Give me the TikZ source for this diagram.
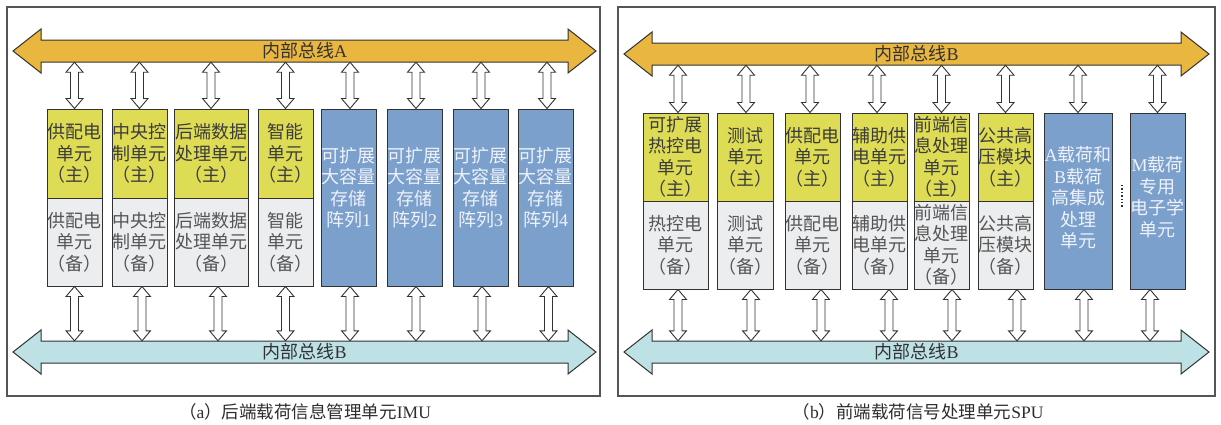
\documentclass[tikz,border=0pt]{standalone}
\usepackage{fontspec}
\setmainfont{Liberation Serif}
\newfontfamily\cjk{Noto Sans CJK SC}
\usetikzlibrary{calc}
\definecolor{edge}{RGB}{50,50,50}
\definecolor{framec}{RGB}{85,85,85}
\definecolor{busorange}{RGB}{233,182,64}
\definecolor{buscyan}{RGB}{190,225,230}
\definecolor{ybox}{RGB}{222,220,84}
\definecolor{gbox}{RGB}{236,237,239}
\definecolor{bbox}{RGB}{124,160,204}
\definecolor{ytext}{RGB}{60,60,60}
\definecolor{gtext}{RGB}{85,85,85}
\definecolor{btext}{RGB}{238,242,250}
\definecolor{captext}{RGB}{45,45,45}
\newcommand\lat[1]{{\rmfamily #1}}
% hollow double vertical arrow: #1 x reference, #2 top y reference, #3 bottom y reference
\newcommand\varrow[3]{%
  \draw[varr] let \p1=#1, \p2=#2, \p3=#3 in
    (\x1,\y2) -- (\x1+8.5pt,\y2-10pt) -- (\x1+4pt,\y2-10pt) -- (\x1+4pt,\y3+10pt)
    -- (\x1+8.5pt,\y3+10pt) -- (\x1,\y3) -- (\x1-8.5pt,\y3+10pt) -- (\x1-4pt,\y3+10pt)
    -- (\x1-4pt,\y2-10pt) -- (\x1-8.5pt,\y2-10pt) -- cycle;}
% bus: #1 name, #2 left head back, #3 right head back, #4 centre y, #5 colour, #6 text
\newcommand\busarrow[6]{%
  \filldraw[busline, fill=#5] (#2,#4-11) -- (#3,#4-11) -- (#3,#4-22) -- (#3+28,#4)
    -- (#3,#4+22) -- (#3,#4+11) -- (#2,#4+11) -- (#2,#4+22) -- (#2-28,#4)
    -- (#2,#4-22) -- cycle;
  \node[bustext, minimum width={#3-#2}, minimum height=22] (#1) at ({(#2+#3)/2},#4) {#6};}
% cell: #1 name, #2 style, #3 x1, #4 x2, #5 y1, #6 y2, #7 text
\newcommand\cell[7]{%
  \node[#2, minimum width={#4-#3}, minimum height={#6-#5}] (#1) at ({(#3+#4)/2},{(#5+#6)/2}) {#7};}
\begin{document}
\begin{tikzpicture}[x=1pt,y=-1pt,
  boxbase/.style={draw=edge, line width=1pt, inner sep=0pt, align=center,
    font=\cjk\fontsize{18pt}{21.5pt}\selectfont},
  mainbox/.style={boxbase, fill=ybox, text=ytext},
  backbox/.style={boxbase, fill=gbox, text=gtext},
  bluebox/.style={boxbase, fill=bbox, text=btext},
  bluetext/.style={inner sep=0pt, align=center, text=btext,
    font=\cjk\fontsize{18pt}{21.5pt}\selectfont},
  varr/.style={draw=edge, fill=white, line width=0.9pt, line join=miter},
  busline/.style={draw=edge, line width=1pt, line join=miter},
  bustext/.style={inner sep=0pt, text=edge, font=\cjk\fontsize{18pt}{21pt}\selectfont},
  framebox/.style={draw=framec, line width=1.2pt},
  caption/.style={inner sep=0pt, text=captext, font=\cjk\fontsize{17.5pt}{20pt}\selectfont}]
\useasboundingbox (0,0) rectangle (1221,424);

% frames
\draw[framebox] (7,7) rectangle (600,396);
\draw[framebox] (618,7) rectangle (1215,396);

% ---------------- left panel ----------------
\busarrow{busA}{41}{568}{51}{busorange}{内部总线\lat{A}}
\busarrow{busB}{41}{568}{352}{buscyan}{内部总线\lat{B}}

\cell{L1m}{mainbox}{47}{102}{109}{198}{供配电\\单元\\（主）}
\cell{L1b}{backbox}{47}{102}{198}{286}{供配电\\单元\\（备）}
\cell{L2m}{mainbox}{112}{167}{109}{198}{中央控\\制单元\\（主）}
\cell{L2b}{backbox}{112}{167}{198}{286}{中央控\\制单元\\（备）}
\cell{L3m}{mainbox}{174}{248}{109}{198}{后端数据\\处理单元\\（主）}
\cell{L3b}{backbox}{174}{248}{198}{286}{后端数据\\处理单元\\（备）}
\cell{L4m}{mainbox}{258}{313}{109}{198}{智能\\单元\\（主）}
\cell{L4b}{backbox}{258}{313}{198}{286}{智能\\单元\\（备）}
\cell{L5}{bluebox}{321}{376}{109}{286}{}
\cell{L6}{bluebox}{387}{442}{109}{286}{}
\cell{L7}{bluebox}{453}{508}{109}{286}{}
\cell{L8}{bluebox}{518}{573}{109}{286}{}
\node[bluetext] (L5t) at ([yshift=10pt]L5.center) {可扩展\\大容量\\存储\\阵列\lat{1}};
\node[bluetext] (L6t) at ([yshift=10pt]L6.center) {可扩展\\大容量\\存储\\阵列\lat{2}};
\node[bluetext] (L7t) at ([yshift=10pt]L7.center) {可扩展\\大容量\\存储\\阵列\lat{3}};
\node[bluetext] (L8t) at ([yshift=10pt]L8.center) {可扩展\\大容量\\存储\\阵列\lat{4}};

\varrow{(L1m.north)}{(busA.south)}{(L1m.north)}
\varrow{(L2m.north)}{(busA.south)}{(L2m.north)}
\varrow{(L3m.north)}{(busA.south)}{(L3m.north)}
\varrow{(L4m.north)}{(busA.south)}{(L4m.north)}
\varrow{([xshift=1.5pt]L5.north)}{(busA.south)}{(L5.north)}
\varrow{([xshift=1.5pt]L6.north)}{(busA.south)}{(L6.north)}
\varrow{([xshift=0.5pt]L7.north)}{(busA.south)}{(L7.north)}
\varrow{([xshift=1.5pt]L8.north)}{(busA.south)}{(L8.north)}

\varrow{(L1b.south)}{(L1b.south)}{(busB.north)}
\varrow{([xshift=2.5pt]L2b.south)}{(L2b.south)}{(busB.north)}
\varrow{([xshift=7pt]L3b.south)}{(L3b.south)}{(busB.north)}
\varrow{(L4b.south)}{(L4b.south)}{(busB.north)}
\varrow{([xshift=1.5pt]L5.south)}{(L5.south)}{(busB.north)}
\varrow{([xshift=1.5pt]L6.south)}{(L6.south)}{(busB.north)}
\varrow{([xshift=1.5pt]L7.south)}{(L7.south)}{(busB.north)}
\varrow{([xshift=3pt]L8.south)}{(L8.south)}{(busB.north)}

\node[caption] (capA) at (305,412) {（\lat{a}）后端载荷信息管理单元\lat{IMU}};

% ---------------- right panel ----------------
\busarrow{busC}{652}{1181}{54}{busorange}{内部总线\lat{B}}
\busarrow{busD}{652}{1181}{352}{buscyan}{内部总线\lat{B}}

\cell{R1m}{mainbox}{643}{708}{113}{201}{可扩展\\热控电\\单元\\（主）}
\cell{R1b}{backbox}{643}{708}{201}{289}{热控电\\单元\\（备）}
\cell{R2m}{mainbox}{717}{773}{113}{201}{测试\\单元\\（主）}
\cell{R2b}{backbox}{717}{773}{201}{289}{测试\\单元\\（备）}
\cell{R3m}{mainbox}{785}{840}{113}{201}{供配电\\单元\\（主）}
\cell{R3b}{backbox}{785}{840}{201}{289}{供配电\\单元\\（备）}
\cell{R4m}{mainbox}{852}{907}{113}{201}{辅助供\\电单元\\（主）}
\cell{R4b}{backbox}{852}{907}{201}{289}{辅助供\\电单元\\（备）}
\cell{R5m}{mainbox}{914}{969}{113}{201}{前端信\\息处理\\单元\\（主）}
\cell{R5b}{backbox}{914}{969}{201}{289}{前端信\\息处理\\单元\\（备）}
\cell{R6m}{mainbox}{978}{1033}{113}{201}{公共高\\压模块\\（主）}
\cell{R6b}{backbox}{978}{1033}{201}{289}{公共高\\压模块\\（备）}
\cell{R7}{bluebox}{1044}{1112}{113}{289}{}
\cell{R8}{bluebox}{1130}{1185}{113}{289}{}
\node[bluetext] (R7t) at ([yshift=3pt]R7.center) {\lat{A}载荷和\\\lat{B}载荷\\高集成\\处理\\单元};
\node[bluetext] (R8t) at ([yshift=4pt]R8.center) {\lat{M}载荷\\专用\\电子学\\单元};
\draw[edge, dotted, line width=1.4pt] (1122,185) -- (1122,208);

\varrow{([xshift=2.5pt]R1m.north)}{(busC.south)}{(R1m.north)}
\varrow{([xshift=1pt]R2m.north)}{(busC.south)}{(R2m.north)}
\varrow{([xshift=-2.5pt]R3m.north)}{(busC.south)}{(R3m.north)}
\varrow{([xshift=-2.5pt]R4m.north)}{(busC.south)}{(R4m.north)}
\varrow{(R5m.north)}{(busC.south)}{(R5m.north)}
\varrow{(R6m.north)}{(busC.south)}{(R6m.north)}
\varrow{(R7.north)}{(busC.south)}{(R7.north)}
\varrow{(R8.north)}{(busC.south)}{(R8.north)}

\varrow{([xshift=2.5pt]R1b.south)}{(R1b.south)}{(busD.north)}
\varrow{([xshift=6pt]R2b.south)}{(R2b.south)}{(busD.north)}
\varrow{([xshift=8.5pt]R3b.south)}{(R3b.south)}{(busD.north)}
\varrow{([xshift=9.5pt]R4b.south)}{(R4b.south)}{(busD.north)}
\varrow{([xshift=10.5pt]R5b.south)}{(R5b.south)}{(busD.north)}
\varrow{([xshift=11.5pt]R6b.south)}{(R6b.south)}{(busD.north)}
\varrow{([xshift=6pt]R7.south)}{(R7.south)}{(busD.north)}
\varrow{([xshift=-7.5pt]R8.south)}{(R8.south)}{(busD.north)}

\node[caption] (capB) at (918,412) {（\lat{b}）前端载荷信号处理单元\lat{SPU}};
\end{tikzpicture}
\end{document}
